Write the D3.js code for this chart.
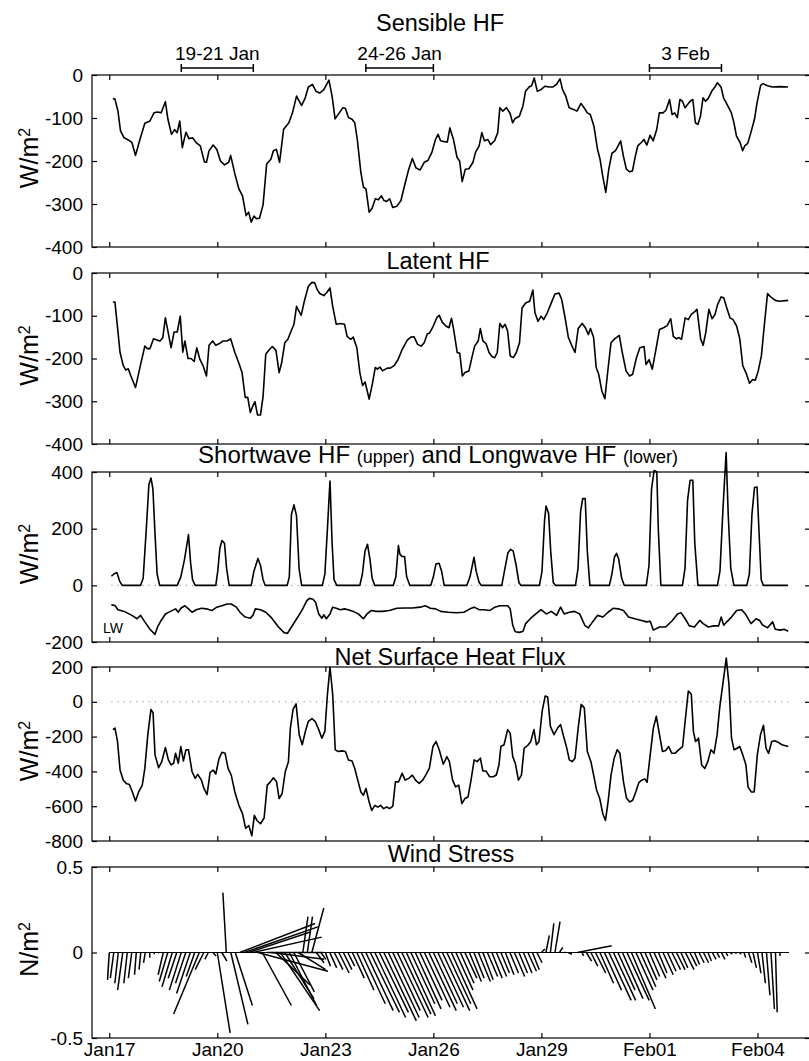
<!DOCTYPE html>
<html>
<head>
<meta charset="utf-8">
<script src="https://cdn.jsdelivr.net/npm/d3@7"></script>
<style>
body { margin: 0; background: #fff; }
text { font-family: "Liberation Sans", Arial, Helvetica, sans-serif; fill: #000; }
</style>
</head>
<body>
<div id="chart"></div>
<script>
// time is in hours since 17 Jan 00:00, fluxes in W/m2
var dayTicks = [0, 72, 144, 216, 288, 360, 432];
var dayLabels = ["Jan17", "Jan20", "Jan23", "Jan26", "Jan29", "Feb01", "Feb04"];

var periods = [[48, 96], [171, 216], [360, 408]];
var periodLabels = ["19-21 Jan", "24-26 Jan", "3 Feb"];

var sensibleHF = [
[2.4,-55],[3.8,-56],[5.8,-84],[7.5,-130],[9.9,-146],[12.7,-151],[15.1,-157],[17.5,-187],[20.2,-153],[23.7,-112],
[27.1,-107],[29.8,-88],[32.2,-86],[34.6,-88],[37.4,-62],[39.1,-103],[41.5,-138],[43.5,-127],[45.3,-134],[47.0,-107],
[48.7,-169],[51.1,-133],[53.1,-148],[55.5,-146],[57.9,-157],[60.7,-165],[63.4,-202],[64.8,-203],[66.5,-176],[69.3,-163],
[71.7,-173],[74.1,-200],[76.8,-209],[79.6,-203],[80.9,-187],[83.7,-230],[86.4,-265],[88.8,-281],[91.2,-327],[92.9,-319],
[94.6,-342],[96.4,-328],[98.1,-334],[100.1,-333],[102.5,-302],[104.9,-207],[107.7,-196],[109.4,-176],[111.4,-173],[113.5,-203],
[116.2,-126],[119.7,-111],[122.1,-88],[124.8,-49],[128.2,-71],[130.6,-53],[132.7,-28],[135.4,-22],[137.8,-38],[140.2,-42],
[143.0,-34],[146.4,-12],[148.5,-49],[150.5,-102],[153.3,-88],[155.7,-76],[157.4,-78],[159.4,-99],[161.8,-103],[163.6,-111],
[165.3,-150],[167.7,-227],[169.4,-261],[171.1,-265],[173.2,-319],[175.2,-310],[177.3,-288],[179.3,-290],[181.4,-281],[183.1,-292],
[184.8,-294],[186.9,-288],[188.9,-308],[191.7,-305],[194.4,-292],[196.8,-257],[199.6,-219],[202.0,-194],[204.4,-216],[207.1,-221],
[209.9,-203],[212.3,-199],[215.0,-180],[217.4,-150],[219.1,-138],[220.8,-153],[223.2,-155],[225.3,-156],[227.0,-123],[229.4,-150],
[231.8,-192],[233.5,-200],[235.2,-248],[237.3,-219],[239.7,-218],[242.4,-203],[244.1,-180],[246.5,-165],[248.3,-134],[250.0,-153],
[252.4,-150],[254.1,-162],[256.8,-153],[258.9,-134],[260.3,-76],[262.3,-84],[264.7,-76],[267.1,-89],[268.8,-111],[270.5,-101],
[273.3,-96],[275.7,-72],[277.4,-38],[279.8,-28],[281.5,-25],[283.2,-7],[285.3,-38],[287.7,-34],[290.4,-26],[293.2,-28],
[295.6,-28],[298.0,-22],[300.4,-9],[302.1,-34],[304.2,-49],[306.5,-76],[309.3,-80],[311.7,-84],[314.4,-66],[316.8,-78],
[318.6,-88],[320.6,-92],[323.0,-119],[325.4,-173],[327.1,-196],[328.8,-234],[330.9,-273],[332.9,-219],[335.0,-182],[337.4,-176],
[339.1,-165],[340.8,-153],[342.6,-188],[344.6,-219],[346.7,-225],[348.7,-223],[350.4,-192],[352.2,-165],[354.6,-157],[356.3,-150],
[358.3,-163],[360.4,-140],[362.5,-153],[364.9,-126],[366.6,-88],[369.0,-88],[371.0,-82],[373.4,-57],[375.1,-92],[376.8,-88],
[378.6,-99],[380.3,-57],[382.0,-61],[383.7,-76],[385.8,-67],[387.1,-61],[388.9,-57],[390.6,-111],[392.3,-115],[394.0,-96],
[395.7,-53],[397.4,-61],[399.1,-55],[401.5,-38],[403.6,-28],[405.3,-18],[407.7,-28],[409.4,-53],[411.8,-69],[414.6,-88],
[416.3,-111],[418.0,-142],[420.4,-157],[422.1,-176],[423.5,-165],[425.5,-159],[427.6,-134],[430.0,-103],[431.7,-65],[434.1,-24],
[435.8,-20],[438.6,-25],[442.0,-28],[447.0,-27],[452.3,-28]
];

var latentHF = [
[2.4,-68],[3.8,-68],[5.1,-113],[7.2,-186],[9.3,-216],[11.0,-227],[12.7,-224],[14.4,-241],[17.5,-268],[20.2,-225],
[23.7,-171],[25.4,-177],[27.1,-177],[29.5,-154],[31.9,-157],[33.9,-159],[35.7,-151],[37.4,-105],[39.1,-136],[41.2,-175],
[43.2,-138],[45.3,-138],[47.3,-101],[49.0,-185],[50.4,-159],[52.5,-200],[54.5,-200],[56.6,-207],[58.3,-175],[60.4,-202],
[62.4,-216],[64.8,-241],[66.5,-169],[68.9,-159],[71.0,-169],[73.4,-165],[75.8,-159],[78.5,-159],[80.9,-154],[83.7,-186],
[86.1,-208],[88.5,-233],[90.6,-291],[92.3,-291],[94.0,-326],[95.7,-311],[97.1,-301],[98.8,-332],[100.8,-332],[102.5,-289],
[104.3,-190],[106.7,-179],[108.7,-172],[111.1,-181],[113.2,-233],[114.9,-210],[117.0,-163],[119.0,-155],[121.1,-137],[123.1,-120],
[124.8,-78],[127.9,-99],[130.0,-66],[132.7,-31],[135.1,-22],[136.9,-23],[138.6,-39],[140.3,-48],[143.0,-53],[145.1,-45],
[147.1,-35],[148.9,-78],[151.3,-120],[154.0,-118],[156.8,-120],[158.5,-148],[160.9,-155],[162.6,-150],[165.0,-175],[167.0,-233],
[168.8,-263],[170.5,-255],[173.2,-295],[175.3,-260],[177.3,-221],[178.7,-225],[180.4,-220],[182.1,-229],[184.9,-223],[187.6,-222],
[190.0,-216],[192.4,-203],[195.2,-179],[198.6,-157],[201.0,-150],[203.1,-149],[205.5,-167],[207.9,-171],[209.9,-163],[212.0,-142],
[213.3,-141],[215.7,-126],[218.5,-103],[219.9,-99],[221.9,-115],[224.3,-124],[226.4,-128],[228.1,-106],[229.5,-132],[231.9,-186],
[233.6,-188],[235.3,-241],[237.0,-233],[239.7,-229],[241.4,-202],[243.5,-171],[245.9,-159],[247.3,-130],[249.0,-159],[251.1,-165],
[253.1,-186],[255.2,-196],[256.9,-198],[258.6,-186],[260.3,-118],[262.1,-128],[263.8,-120],[265.5,-136],[267.2,-194],[269.3,-198],
[271.3,-186],[273.4,-163],[275.1,-82],[277.5,-70],[280.2,-66],[282.3,-40],[283.7,-93],[285.7,-113],[287.8,-101],[289.5,-109],
[291.9,-93],[294.6,-70],[297.0,-49],[299.8,-47],[301.5,-62],[303.9,-107],[306.0,-151],[308.4,-171],[310.4,-186],[312.5,-130],
[315.2,-118],[317.3,-128],[319.3,-144],[320.7,-130],[322.8,-151],[324.5,-221],[326.2,-237],[328.3,-276],[330.3,-294],[332.4,-224],
[334.4,-163],[336.8,-154],[339.9,-146],[341.9,-186],[344.4,-229],[346.8,-241],[348.8,-237],[351.2,-200],[353.6,-175],[356.4,-172],
[357.7,-214],[359.8,-203],[361.9,-225],[364.3,-179],[366.7,-132],[369.4,-128],[371.8,-123],[374.2,-107],[375.9,-148],[378.0,-154],
[379.7,-151],[381.4,-155],[383.8,-105],[385.9,-109],[387.9,-97],[390.0,-91],[391.7,-85],[394.1,-154],[395.8,-169],[397.5,-140],
[399.6,-85],[401.7,-107],[403.7,-97],[405.4,-74],[407.8,-56],[409.5,-58],[411.2,-78],[413.7,-105],[415.7,-109],[418.1,-124],
[420.2,-154],[422.2,-217],[424.3,-233],[426.7,-258],[428.8,-249],[430.5,-251],[432.5,-229],[434.6,-194],[436.7,-117],[438.7,-48],
[440.8,-56],[443.9,-64],[446.6,-66],[452.5,-64]
];

var shortwaveHF = [
[1.4,32],[3.1,40],[5.1,45],[6.9,15],[8.6,0],[20.9,0],[22.6,25],[24.7,200],[26.4,355],[27.8,379],[29.1,340],[30.5,180],[31.9,40],[33.6,0],
[45.3,0],[47.7,30],[50.1,90],[52.8,179],[54.2,80],[55.5,20],[57.3,0],
[71.0,0],[72.3,50],[73.7,130],[75.1,158],[76.8,148],[78.2,60],[79.9,0],
[94.6,0],[96.4,50],[99.1,95],[100.8,70],[102.5,20],[103.9,0],
[118.6,0],[120.0,30],[121.4,250],[123.1,284],[124.8,245],[126.5,60],[128.2,0],
[142.0,0],[143.7,40],[145.4,200],[147.1,368],[148.5,150],[149.8,20],[151.6,0],
[167.0,0],[168.7,40],[170.4,120],[172.1,145],[173.8,90],[175.2,25],[176.9,0],
[189.3,0],[191.0,30],[192.7,140],[193.7,110],[195.1,102],[196.8,102],[198.2,30],[200.3,0],
[214.3,0],[216.0,30],[217.7,75],[219.8,78],[221.5,50],[223.2,0],
[238.3,0],[240.4,30],[243.1,99],[244.5,50],[246.5,10],[247.9,0],
[261.6,0],[263.7,60],[265.7,115],[267.5,127],[269.2,121],[271.2,70],[273.0,10],[274.3,0],
[286.7,0],[288.4,50],[290.1,230],[291.1,280],[292.8,254],[294.2,120],[295.9,10],[297.3,0],
[310.7,0],[312.4,60],[314.1,260],[315.5,306],[317.2,306],[318.6,120],[320.3,0],
[333.3,0],[335.0,40],[336.7,100],[338.1,113],[339.4,95],[341.5,25],[343.2,0],
[357.9,0],[359.7,70],[361.4,340],[363.1,405],[364.9,400],[365.9,200],[367.6,0],
[382.0,0],[383.7,60],[385.4,300],[387.1,371],[388.9,371],[390.2,150],[392.3,0],
[405.3,0],[407.0,50],[409.1,280],[411.1,469],[412.5,250],[414.2,60],[416.3,0],
[424.9,0],[426.6,40],[428.3,250],[430.0,345],[431.7,347],[433.1,180],[434.5,20],[435.9,0],
[452.3,0]
];

var longwaveHF = [
[1.4,-69],[3.8,-71],[5.8,-86],[9.9,-92],[15.1,-106],[18.5,-118],[20.9,-106],[23.7,-129],[27.1,-155],[30.5,-173],
[32.2,-147],[34.6,-124],[37.4,-101],[40.8,-92],[44.2,-83],[46.0,-95],[47.7,-81],[50.4,-72],[52.8,-83],[55.2,-95],
[58.0,-86],[61.4,-81],[64.8,-83],[68.3,-89],[71.7,-77],[75.1,-72],[78.5,-66],[81.3,-66],[84.7,-77],[87.1,-95],
[90.6,-112],[94.0,-116],[95.7,-106],[97.4,-83],[100.8,-86],[104.3,-95],[107.7,-112],[112.8,-147],[116.3,-166],[118.7,-170],
[121.4,-147],[124.9,-118],[128.3,-89],[131.7,-54],[133.4,-46],[135.8,-49],[137.5,-60],[139.6,-101],[141.7,-116],[143.0,-104],
[144.7,-118],[147.1,-101],[148.9,-77],[151.3,-81],[154.0,-86],[156.8,-83],[159.2,-86],[162.6,-92],[166.0,-101],[169.4,-118],
[171.8,-101],[174.6,-89],[178.0,-92],[182.1,-92],[186.6,-89],[191.7,-81],[196.9,-80],[202.0,-80],[207.2,-77],[210.6,-72],
[214.0,-81],[217.5,-83],[220.9,-92],[226.0,-95],[231.2,-97],[236.3,-95],[240.4,-83],[243.2,-77],[246.6,-86],[250.0,-86],
[253.5,-89],[256.9,-77],[260.3,-72],[265.5,-72],[267.2,-83],[268.9,-141],[270.6,-164],[273.4,-166],[275.8,-162],[277.5,-135],
[280.9,-116],[284.3,-101],[287.8,-86],[291.2,-101],[294.6,-92],[298.1,-106],[300.8,-77],[303.2,-101],[306.6,-95],[310.1,-92],
[313.5,-101],[316.9,-141],[319.3,-150],[322.1,-129],[325.5,-106],[328.9,-112],[332.4,-95],[335.8,-81],[339.2,-83],[342.7,-89],
[346.1,-112],[350.2,-118],[354.7,-124],[358.1,-129],[360.5,-127],[362.6,-158],[366.7,-147],[370.8,-147],[375.3,-124],[378.7,-101],
[381.1,-97],[383.8,-118],[386.6,-143],[390.0,-147],[393.5,-124],[395.8,-135],[399.3,-147],[402.7,-143],[406.1,-143],[407.8,-112],
[409.5,-141],[411.9,-127],[414.7,-112],[418.1,-89],[421.5,-86],[424.3,-104],[427.7,-135],[431.1,-118],[433.5,-124],[435.2,-139],
[438.7,-150],[442.1,-129],[443.8,-155],[447.3,-158],[449.7,-155],[452.5,-162]
];

var netHF = [
[2.4,-160],[3.8,-151],[5.5,-228],[7.2,-392],[9.3,-450],[11.3,-469],[13.4,-475],[15.4,-518],[17.5,-570],[19.6,-518],
[22.0,-479],[23.7,-383],[25.7,-189],[27.8,-44],[29.2,-64],[30.5,-305],[32.9,-379],[35.0,-344],[37.4,-263],[39.4,-334],
[41.2,-363],[42.9,-353],[44.2,-296],[46.0,-353],[47.7,-257],[49.4,-340],[51.1,-276],[52.8,-276],[55.2,-402],[57.3,-440],
[59.0,-417],[61.4,-450],[63.1,-498],[65.2,-533],[67.2,-406],[69.3,-392],[71.0,-415],[73.1,-328],[75.1,-290],[77.2,-296],
[79.2,-383],[81.3,-421],[83.7,-518],[86.4,-595],[88.8,-643],[90.9,-727],[93.0,-711],[95.0,-770],[96.7,-653],[98.4,-682],
[100.8,-701],[103.2,-668],[105.3,-479],[107.4,-460],[109.4,-437],[111.5,-460],[113.2,-556],[115.2,-527],[117.3,-402],[119.4,-344],
[120.7,-151],[122.5,-44],[124.5,-12],[126.6,-189],[128.6,-247],[130.7,-170],[132.7,-112],[135.1,-97],[137.2,-112],[139.6,-160],
[141.7,-209],[143.7,-170],[145.4,43],[147.1,200],[148.9,43],[150.6,-276],[152.6,-286],[155.0,-282],[157.4,-286],[159.4,-334],
[161.8,-340],[163.6,-383],[165.3,-440],[167.7,-518],[169.4,-537],[171.1,-498],[173.2,-576],[174.9,-624],[177.0,-595],[179.0,-605],
[180.8,-595],[182.8,-614],[184.9,-605],[186.9,-614],[189.0,-599],[190.7,-460],[192.8,-460],[195.2,-411],[197.2,-450],[199.6,-440],
[202.0,-421],[204.1,-450],[206.5,-469],[208.9,-450],[210.9,-421],[213.3,-383],[215.7,-257],[217.8,-228],[219.9,-276],[222.6,-359],
[225.0,-315],[226.7,-344],[228.8,-450],[230.8,-489],[232.9,-479],[235.0,-585],[237.0,-556],[239.1,-547],[241.1,-450],[243.2,-334],
[245.2,-344],[247.3,-324],[249.0,-398],[251.1,-398],[253.5,-431],[255.9,-431],[258.0,-421],[259.7,-363],[261.0,-257],[263.1,-247],
[265.5,-160],[267.2,-180],[268.9,-315],[270.6,-353],[272.7,-450],[274.7,-421],[276.5,-266],[278.9,-251],[280.9,-228],[283.0,-160],
[284.7,-247],[286.4,-228],[288.5,-54],[290.5,33],[292.2,27],[294.0,-141],[296.4,-189],[298.8,-151],[300.8,-131],[302.5,-189],
[304.9,-266],[306.6,-334],[308.4,-344],[310.4,-324],[312.5,-151],[314.5,-15],[316.6,-35],[318.6,-286],[321.0,-344],[322.8,-421],
[324.8,-508],[326.9,-556],[328.9,-643],[330.7,-682],[332.4,-576],[334.4,-421],[336.5,-324],[338.5,-276],[340.3,-296],[342.7,-460],
[344.7,-553],[346.8,-576],[348.8,-566],[350.9,-518],[353.0,-463],[355.0,-450],[357.1,-444],[358.4,-463],[360.5,-305],[362.6,-151],
[364.6,-83],[366.7,-189],[368.7,-286],[370.8,-280],[372.8,-257],[374.9,-296],[377.0,-296],[379.4,-276],[382.1,-257],[383.8,-112],
[385.9,62],[387.9,43],[389.3,-170],[390.7,-228],[392.7,-209],[394.8,-363],[396.9,-383],[398.9,-344],[401.0,-276],[403.0,-296],
[405.1,-189],[406.8,-35],[411.2,251],[413.0,100],[414.7,-209],[416.4,-276],[418.5,-267],[420.2,-257],[422.2,-305],[424.3,-363],
[425.7,-489],[427.8,-518],[429.8,-518],[431.9,-305],[434.0,-189],[436.0,-135],[437.7,-267],[439.4,-296],[441.5,-228],[443.5,-224],
[445.6,-232],[448.3,-247],[452.5,-257]
];

// wind stress components (N/m2), one stick every 3 hours from 17 Jan 00:00
var windStep = 3;
var windU = [
-0.01,-0.02,-0.02,-0.03,-0.02,-0.02,-0.01,-0.01,-0.01,0,
0,0,-0.03,-0.05,-0.06,-0.05,-0.07,-0.06,-0.08,-0.05,
-0.15,-0.05,-0.02,0.02,0.075,0.03,-0.02,0.10,0.10,0.44,
0.43,0.36,0.40,0.41,0.17,0.33,0.31,0.20,0.23,0.17,
0.16,0.12,0.16,0.03,0.03,0.07,0.045,0.03,0.03,0.04,
0.05,0.06,0.05,0.04,0.07,0.10,0.14,0.16,0.17,0.18,
0.17,0.19,0.18,0.16,0.18,0.17,0.17,0.14,0.15,0.13,
0.15,0.16,0.14,0.15,0.16,0.14,0.15,0.10,0.08,0.07,
0.07,0.06,0.07,0.06,0.06,0.06,0.06,0.05,0.05,0.05,
0.06,0.05,0.05,0.05,0.04,0.03,0.02,0.02,0.02,0.03,
0.02,0.01,0.02,0,0.20,0.01,0.03,0.04,0.06,0.08,
0.10,0.13,0.13,0.10,0.12,0.13,0.14,0.10,0.09,0.07,
0.06,0.07,0.05,0.06,0.05,0.05,0.05,0.04,0.05,0.04,
0.03,0.03,0.03,0.02,0.02,0.015,0.02,0.01,0.01,0.01,
0.01,0.01,0.02,0.02,0.02,0.02,0.02,0.02,0.01,0,
0,0
];
var windV = [
-0.16,-0.15,-0.18,-0.22,-0.18,-0.15,-0.13,-0.10,-0.06,-0.03,
-0.01,-0.005,-0.13,-0.17,-0.20,-0.15,-0.22,-0.18,-0.24,-0.14,
-0.36,-0.10,-0.04,-0.02,-0.47,-0.05,0.35,-0.42,-0.31,0.17,
0.15,0.12,0.09,-0.11,-0.31,0,-0.04,-0.19,-0.34,-0.27,
-0.31,-0.23,-0.10,0.21,0.21,0.26,-0.06,-0.04,-0.08,-0.09,
-0.10,-0.12,-0.10,-0.08,-0.15,-0.22,-0.30,-0.34,-0.35,-0.38,
-0.35,-0.40,-0.38,-0.34,-0.38,-0.36,-0.37,-0.30,-0.33,-0.28,
-0.32,-0.34,-0.30,-0.32,-0.34,-0.30,-0.33,-0.22,-0.18,-0.15,
-0.17,-0.15,-0.17,-0.16,-0.14,-0.15,-0.14,-0.12,-0.13,-0.12,
-0.14,-0.12,-0.12,-0.11,-0.10,-0.06,0.02,0.10,0.17,0.18,
0.03,0,-0.01,-0.002,0.04,-0.02,-0.05,-0.08,-0.12,-0.18,
-0.22,-0.28,-0.28,-0.22,-0.27,-0.28,-0.33,-0.22,-0.20,-0.16,
-0.14,-0.15,-0.12,-0.13,-0.11,-0.10,-0.10,-0.09,-0.10,-0.08,
-0.07,-0.06,-0.06,-0.05,-0.04,-0.03,-0.04,-0.02,-0.01,-0.005,
-0.01,-0.03,-0.06,-0.09,-0.12,-0.18,-0.25,-0.33,-0.35,-0.02,
-0.003,0
];

var width = 809, height = 1061;
var left = 92, right = 810;

var svg = d3.select("#chart").append("svg")
    .attr("width", width)
    .attr("height", height);

var x = d3.scaleLinear().domain([-11.5, 467]).range([left, right]);

var panels = [
  {top: 75,  bottom: 247,  domain: [-400, 0],   ticks: [0, -100, -200, -300, -400], unit: "W/m"},
  {top: 273, bottom: 444,  domain: [-400, 0],   ticks: [0, -100, -200, -300, -400], unit: "W/m"},
  {top: 472, bottom: 642,  domain: [-200, 400], ticks: [400, 200, 0, -200], unit: "W/m"},
  {top: 667, bottom: 841,  domain: [-800, 200], ticks: [200, 0, -200, -400, -600, -800], unit: "W/m"},
  {top: 867, bottom: 1038, domain: [-0.5, 0.5], ticks: [0.5, 0, -0.5], unit: "N/m"}
];

var line = function (y) {
  return d3.line()
    .x(function (d) { return x(d[0]); })
    .y(function (d) { return y(d[1]); });
};

function drawPanel(p, i) {
  var y = d3.scaleLinear().domain(p.domain).range([p.bottom, p.top]);
  p.y = y;
  var g = svg.append("g");

  g.append("rect")
      .attr("x", left).attr("y", p.top)
      .attr("width", right - left).attr("height", p.bottom - p.top)
      .attr("fill", "none").attr("stroke", "#000").attr("stroke-width", 1.2);

  var ax = g.append("g")
      .attr("transform", "translate(" + left + ",0)")
      .call(d3.axisLeft(y).tickValues(p.ticks).tickSize(-5).tickPadding(9)
        .tickFormat(function (d) { return String(d); }));
  ax.select(".domain").remove();
  ax.selectAll("text").style("font-size", "19px").attr("font-family", null);

  g.append("g")
      .attr("transform", "translate(" + right + ",0)")
      .call(d3.axisRight(y).tickValues(p.ticks).tickSize(-5).tickFormat(""))
      .select(".domain").remove();

  g.append("g")
      .attr("transform", "translate(0," + p.top + ")")
      .call(d3.axisTop(x).tickValues(dayTicks).tickSize(-5).tickFormat(""))
      .select(".domain").remove();

  var bx = g.append("g")
      .attr("transform", "translate(0," + p.bottom + ")")
      .call(d3.axisBottom(x).tickValues(dayTicks).tickSize(-5).tickPadding(5)
        .tickFormat(function (d, k) { return i === 4 ? dayLabels[k] : ""; }));
  bx.select(".domain").remove();
  bx.selectAll("text").style("font-size", "19px").attr("font-family", null);

  svg.selectAll(".tick line").attr("stroke", "#000").attr("stroke-width", 1.2);

  var lab = g.append("text")
      .attr("transform", "translate(38," + ((p.top + p.bottom) / 2 - 3) + ") rotate(-90)")
      .attr("text-anchor", "middle")
      .style("font-size", "25px");
  lab.append("tspan").text(p.unit);
  lab.append("tspan").attr("dy", "-0.5em").style("font-size", "16px").text("2");
}

panels.forEach(drawPanel);

// titles
function title(txt, cx, base) {
  return svg.append("text").attr("x", cx).attr("y", base)
    .attr("text-anchor", "middle").style("font-size", "23.5px").text(txt);
}
title("Sensible HF", 440, 31);
title("Latent HF", 438, 269);
title("Net Surface Heat Flux", 450, 665);
title("Wind Stress", 451, 862);
var swt = svg.append("text").attr("x", 438).attr("y", 463)
    .attr("text-anchor", "middle").style("font-size", "24px");
swt.append("tspan").text("Shortwave HF ");
swt.append("tspan").style("font-size", "18px").text("(upper)");
swt.append("tspan").text(" and Longwave HF ");
swt.append("tspan").style("font-size", "18px").text("(lower)");

// period brackets above the first panel
var br = svg.append("g").attr("stroke", "#000").attr("stroke-width", 1.5);
periods.forEach(function (d, k) {
  var x0 = x(d[0]), x1 = x(d[1]), yb = 68;
  br.append("line").attr("x1", x0).attr("x2", x1).attr("y1", yb).attr("y2", yb);
  br.append("line").attr("x1", x0).attr("x2", x0).attr("y1", yb - 4).attr("y2", yb + 4);
  br.append("line").attr("x1", x1).attr("x2", x1).attr("y1", yb - 4).attr("y2", yb + 4);
  svg.append("text").attr("x", (x0 + x1) / 2).attr("y", 60)
    .attr("text-anchor", "middle").style("font-size", "19px").text(periodLabels[k]);
});

// zero reference lines
[2, 3].forEach(function (i) {
  var p = panels[i];
  svg.append("line")
    .attr("x1", x(1.4)).attr("x2", x(452.5))
    .attr("y1", p.y(0)).attr("y2", p.y(0))
    .attr("stroke", "#888").attr("stroke-width", 1).attr("stroke-dasharray", "1.2,5");
});

// flux curves
var curves = [[sensibleHF, 0], [latentHF, 1], [shortwaveHF, 2], [longwaveHF, 2], [netHF, 3]];
curves.forEach(function (c) {
  svg.append("path")
    .datum(c[0])
    .attr("d", line(panels[c[1]].y))
    .attr("fill", "none")
    .attr("stroke", "#000")
    .attr("stroke-width", 1.6)
    .attr("stroke-linejoin", "round");
});

svg.append("text").attr("x", 103).attr("y", 633).style("font-size", "14px").text("LW");

// wind stress sticks
var yw = panels[4].y;
var ppu = yw(0) - yw(1); // pixels per N/m2, same in both directions
svg.append("line")
  .attr("x1", x(0)).attr("x2", x(453))
  .attr("y1", yw(0)).attr("y2", yw(0))
  .attr("stroke", "#000").attr("stroke-width", 1);
svg.append("g").selectAll("line")
  .data(windU)
  .enter()
  .append("line")
    .attr("x1", function (d, k) { return x(k * windStep); })
    .attr("y1", yw(0))
    .attr("x2", function (d, k) { return x(k * windStep) + d * ppu; })
    .attr("y2", function (d, k) { return yw(windV[k]); })
    .attr("stroke", "#000")
    .attr("stroke-width", 1.5);
</script>
</body>
</html>
